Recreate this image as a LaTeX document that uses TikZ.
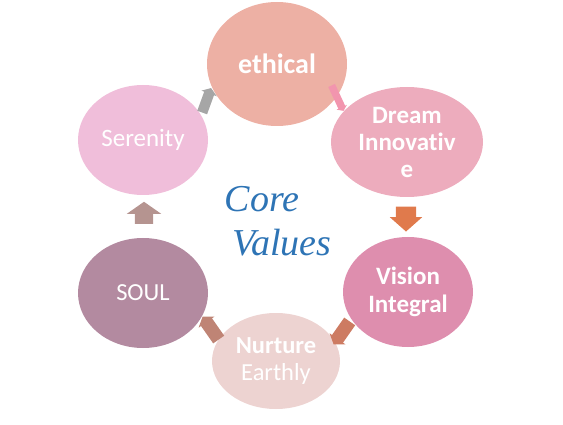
\documentclass[tikz,border=0pt]{standalone}
\usepackage{fontspec}
\setmainfont[Ligatures=NoCommon]{Carlito}
\newfontfamily\corefont{Liberation Serif}
\usepackage{xcolor}
\usepackage{tikz}
\usetikzlibrary{shapes.geometric,shapes.arrows}
\definecolor{ethicalpink}{HTML}{EDB0A4}
\definecolor{dreampink}{HTML}{EDACBD}
\definecolor{visionpink}{HTML}{DE8EAE}
\definecolor{nurturepink}{HTML}{EDD3D1}
\definecolor{soulmauve}{HTML}{B38AA0}
\definecolor{serenitypink}{HTML}{F0BEDA}
\definecolor{coreblue}{HTML}{2E74B5}
\definecolor{arrowgrey}{HTML}{A6A6A6}
\definecolor{arrowpink}{HTML}{F295AE}
\definecolor{arroworange}{HTML}{E07A4C}
\definecolor{arrowrust}{HTML}{CD7B62}
\definecolor{arrowbrown}{HTML}{BF8475}
\definecolor{arrowtaupe}{HTML}{B59490}

\begin{document}
\begin{tikzpicture}[x=1pt,y=-1pt, every node/.style={align=center,text=white}, value/.style={ellipse,inner sep=0pt}, blockarrow/.style={single arrow,draw=none,inner xsep=0pt,single arrow tip angle=110}]
\useasboundingbox (0,0) rectangle (563,425);
\node[value,fill=ethicalpink,minimum width=140pt,minimum height=124pt,font=\fontsize{28}{30}\selectfont\bfseries] (eth) at (277,64) {ethical};
\node[value,fill=dreampink,minimum width=152pt,minimum height=110pt,font=\fontsize{25}{27}\selectfont\bfseries] (drm) at (407,142) {Dream\\Innovativ\\e};
\node[value,fill=visionpink,minimum width=130pt,minimum height=110pt,font=\fontsize{25}{28}\selectfont\bfseries] (vis) at (408,292) {Vision\\Integral};
\node[value,fill=nurturepink,minimum width=128pt,minimum height=96pt,font=\fontsize{24.5}{27}\selectfont] (nur) at (276,361) {\textbf{Nurture}\\Earthly};
\node[value,fill=soulmauve,minimum width=130pt,minimum height=110pt,font=\fontsize{24.5}{27}\selectfont] (soul) at (143,293) {SOUL};
\node[value,fill=serenitypink,minimum width=130pt,minimum height=110pt,font=\fontsize{25}{27}\selectfont] (ser) at (143,140) {Serenity};
% arrows round the cycle
\node[blockarrow,fill=arrowgrey,minimum height=26pt,inner ysep=5pt,single arrow head extend=3pt,rotate=70] (a1) at (206,102) {};
\node[blockarrow,fill=arrowpink,minimum height=28pt,inner ysep=3.5pt,single arrow head extend=2pt,rotate=-65] (a2) at (337,97) {};
\node[blockarrow,fill=arroworange,minimum height=25pt,inner ysep=10pt,single arrow head extend=6pt,single arrow tip angle=97,rotate=-90] (a3) at (406,214.5) {};
\node[blockarrow,fill=arrowrust,minimum height=28pt,inner ysep=6.5pt,single arrow head extend=3pt,rotate=-125] (a4) at (343,331) {};
\node[blockarrow,fill=arrowbrown,minimum height=28pt,inner ysep=6.5pt,single arrow head extend=3pt,rotate=125] (a5) at (212,330) {};
\node[blockarrow,fill=arrowtaupe,minimum height=22pt,inner ysep=9pt,single arrow head extend=8pt,rotate=90] (a6) at (144,216) {};
% centre title
\node[anchor=base,text=coreblue,font=\corefont\itshape\fontsize{38}{40}\selectfont] (core) at (262,212) {Core};
\node[anchor=base,text=coreblue,font=\corefont\itshape\fontsize{38}{40}\selectfont] (values) at (282,256) {Values};
\end{tikzpicture}
\end{document}
